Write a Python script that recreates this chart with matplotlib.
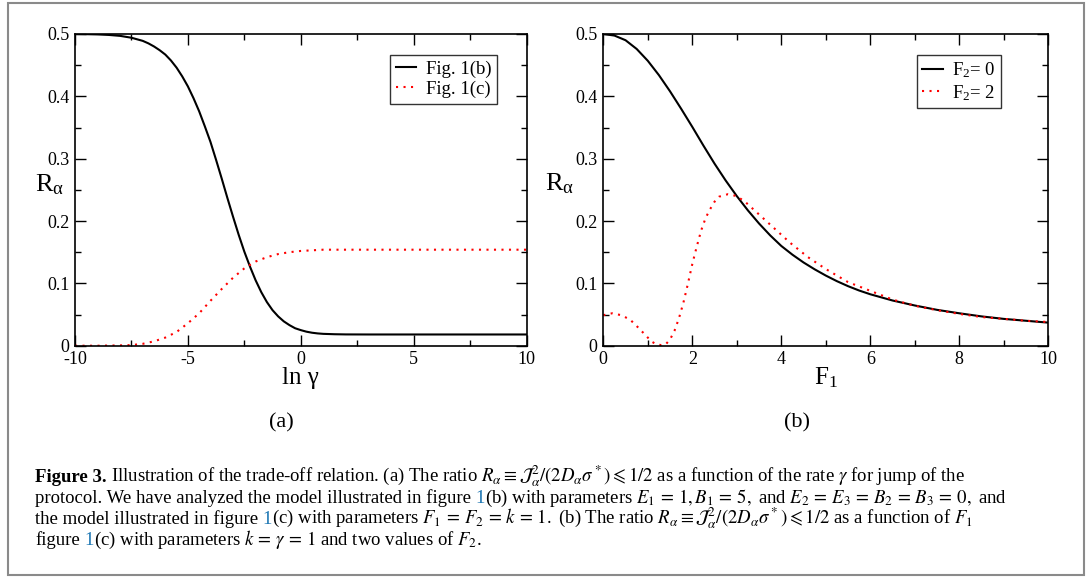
import numpy as np
import matplotlib
matplotlib.use("Agg")
import matplotlib.pyplot as plt
from matplotlib.ticker import MultipleLocator, FuncFormatter
from matplotlib.patches import Rectangle

plt.rcParams['font.family'] = ['Liberation Serif', 'DejaVu Serif']
plt.rcParams['mathtext.fontset'] = 'custom'
plt.rcParams['mathtext.rm'] = 'Liberation Serif'
plt.rcParams['mathtext.it'] = 'Liberation Serif:italic'
plt.rcParams['mathtext.bf'] = 'Liberation Serif:bold'
plt.rcParams['axes.unicode_minus'] = False

# panel (a): R_alpha vs ln gamma
lng_b = [-10, -9.5, -9, -8.5, -8, -7.75, -7.5, -7.25, -7, -6.75, -6.5, -6.25, -6, -5.75, -5.5,
         -5.25, -5, -4.75, -4.5, -4.25, -4, -3.75, -3.5, -3.25, -3, -2.75, -2.5, -2.25, -2,
         -1.75, -1.5, -1.25, -1, -0.75, -0.5, -0.25, 0, 0.25, 0.5, 0.75, 1, 1.5, 2, 3, 4, 6, 8, 10]
R_fig1b = [0.5000, 0.4997, 0.4993, 0.4985, 0.4970, 0.4955, 0.4940, 0.4915, 0.4890, 0.4850,
           0.4800, 0.4740, 0.4670, 0.4575, 0.4460, 0.4320, 0.4160, 0.3970, 0.3760, 0.3520,
           0.3270, 0.2980, 0.2680, 0.2370, 0.2070, 0.1780, 0.1510, 0.1270, 0.1050, 0.0860,
           0.0700, 0.0570, 0.0470, 0.0390, 0.0330, 0.0280, 0.0250, 0.0225, 0.0208, 0.0197,
           0.0190, 0.0184, 0.0181, 0.0180, 0.0180, 0.0180, 0.0180, 0.0180]
lng_c = [-10, -9, -8, -7.5, -7, -6.5, -6, -5.5, -5, -4.5, -4, -3.5, -3, -2.5, -2, -1.5, -1,
         -0.5, 0, 0.5, 1, 2, 4, 6, 8, 10]
R_fig1c = [0.0, 0.0, 0.0005, 0.001, 0.003, 0.007, 0.013, 0.022, 0.036, 0.052, 0.072, 0.091,
           0.109, 0.124, 0.135, 0.142, 0.147, 0.150, 0.152, 0.153, 0.154, 0.154, 0.154, 0.154,
           0.154, 0.154]

# panel (b): R_alpha vs F1
F1_0 = [0, 0.25, 0.5, 0.75, 1, 1.25, 1.5, 1.75, 2, 2.25, 2.5, 2.75, 3, 3.25, 3.5, 3.75, 4,
        4.25, 4.5, 4.75, 5, 5.25, 5.5, 5.75, 6, 6.5, 7, 7.5, 8, 8.5, 9, 9.5, 10]
R_F2_0 = [0.500, 0.4975, 0.490, 0.476, 0.457, 0.434, 0.408, 0.380, 0.351, 0.321, 0.292, 0.265,
          0.240, 0.217, 0.196, 0.177, 0.160, 0.146, 0.1335, 0.1225, 0.1125, 0.1035, 0.0955,
          0.0885, 0.0825, 0.0725, 0.0645, 0.0575, 0.052, 0.047, 0.043, 0.040, 0.037]
F1_2 = [0, 0.2, 0.4, 0.6, 0.8, 1.0, 1.1, 1.2, 1.3, 1.4, 1.5, 1.6, 1.7, 1.8, 1.9, 2.0, 2.1,
        2.2, 2.3, 2.4, 2.5, 2.6, 2.8, 3.0, 3.2, 3.4, 3.6, 3.8, 4.0, 4.2, 4.6, 5.0, 5.5, 6.0,
        6.5, 7.0, 7.5, 8, 8.5, 9, 9.5, 10]
R_F2_2 = [0.049, 0.052, 0.049, 0.042, 0.028, 0.013, 0.006, 0.002, 0.001, 0.002, 0.010, 0.024,
          0.044, 0.069, 0.099, 0.131, 0.159, 0.185, 0.205, 0.219, 0.231, 0.239, 0.243, 0.240,
          0.230, 0.217, 0.204, 0.191, 0.178, 0.165, 0.142, 0.123, 0.102, 0.088, 0.074, 0.064,
          0.057, 0.051, 0.046, 0.043, 0.040, 0.038]

W, H = 1088, 577
fig = plt.figure(figsize=(W / 100, H / 100), dpi=100)
fig.patches.append(Rectangle((8 / W, 2 / H), 1076 / W, 572 / H, transform=fig.transFigure,
                             fill=False, edgecolor='#8a8a8a', lw=1.5))

def px_axes(l, r, t, b):
    return fig.add_axes([l / W, 1 - b / H, (r - l) / W, (b - t) / H])

axa = px_axes(75, 526.5, 34, 345.7)
axb = px_axes(603.3, 1048.3, 34, 345.7)

dots = dict(color='red', lw=1.5, linestyle=(0, (1, 2.6)))
axa.plot(lng_b, R_fig1b, color='black', lw=1.5, label='Fig. 1(b)')
axa.plot(lng_c, R_fig1c, label='Fig. 1(c)', **dots)
axb.plot(F1_0, R_F2_0, color='black', lw=1.5, label='F$_2$= 0')
axb.plot(F1_2, R_F2_2, label='F$_2$= 2', **dots)

yfmt = FuncFormatter(lambda v, p: '0' if abs(v) < 1e-9 else '%.1f' % v)
for ax in (axa, axb):
    ax.set_ylim(0, 0.5)
    ax.yaxis.set_major_locator(MultipleLocator(0.1))
    ax.yaxis.set_minor_locator(MultipleLocator(0.05))
    ax.yaxis.set_major_formatter(yfmt)
    ax.tick_params(which='both', direction='in', top=True, right=True, labelsize=13, width=1)
    ax.tick_params(which='major', length=8, pad=4)
    ax.tick_params(which='minor', length=4.5)
    for s in ax.spines.values():
        s.set_linewidth(1.2)
    ax.set_ylabel(r'R$_\mathrm{\alpha}$', fontsize=19, rotation=0, ha='left', va='center')
    leg = ax.legend(loc='upper left', fontsize=13.5, frameon=True, fancybox=False,
                    edgecolor='black', handlelength=1.1, handletextpad=0.5,
                    labelspacing=0.15, borderpad=0.3, borderaxespad=0)
    leg.get_frame().set_linewidth(1.0)

axa.set_xlim(-10, 10)
axa.xaxis.set_major_locator(MultipleLocator(5))
axa.xaxis.set_minor_locator(MultipleLocator(2.5))
axb.set_xlim(0, 10)
axb.xaxis.set_major_locator(MultipleLocator(2))
axb.xaxis.set_minor_locator(MultipleLocator(1))

axa.legend_.set_bbox_to_anchor((0.698, 0.933))
axb.legend_.set_bbox_to_anchor((0.704, 0.933))

axa.set_xlabel('ln γ', fontsize=18)
axb.set_xlabel(r'F$_1$', fontsize=18)
axa.xaxis.set_label_coords(0.5, -0.104)
axb.xaxis.set_label_coords(0.5, -0.104)
axa.xaxis.label.set_va('center')
axb.xaxis.label.set_va('center')
axa.yaxis.set_label_coords(-0.0886, 0.515)
axb.yaxis.set_label_coords(-0.131, 0.52)

fig.text(281 / W, 1 - 423 / H, '(a)', fontsize=16, ha='center', va='center')
fig.text(797 / W, 1 - 423 / H, '(b)', fontsize=16, ha='center', va='center')

# caption, drawn piece by piece so the figure numbers can be blue
cap_fs = 13.5
blue = '#1f78b4'
rr = fig.canvas.get_renderer()

def width_of(s, weight='normal'):
    t = fig.text(0, 0, s, fontsize=cap_fs, fontweight=weight, math_fontfamily='stix')
    w = t.get_window_extent(rr).width
    t.remove()
    return w

space = width_of('a a') - width_of('aa')

lines = [
    [('Figure 3.', 'black', 'bold', True),
     (r'Illustration of the trade-off relation. (a) The ratio $R_\alpha \equiv \mathcal{J}_\alpha^2/(2D_\alpha\sigma^*) \leqslant 1/2$ as a function of the rate $\gamma$ for jump of the',
      'black', 'normal', False)],
    [('protocol. We have analyzed the model illustrated in figure', 'black', 'normal', True),
     ('1', blue, 'normal', False),
     (r'(b) with parameters $E_1\,=\,1, B_1\,=\,5,$ and $E_2\,=\,E_3\,=\,B_2\,=\,B_3\,=\,0,$ and',
      'black', 'normal', False)],
    [('the model illustrated in figure', 'black', 'normal', True),
     ('1', blue, 'normal', False),
     (r'(c) with parameters $F_1\,=\,F_2\,=\,k\,=\,1.$ (b) The ratio $R_\alpha \equiv \mathcal{J}_\alpha^2/(2D_\alpha\sigma^*) \leqslant 1/2$ as a function of $F_1$',
      'black', 'normal', False)],
    [('figure', 'black', 'normal', True),
     ('1', blue, 'normal', False),
     (r'(c) with parameters $k\,=\,\gamma\,=\,1$ and two values of $F_2$.', 'black', 'normal', False)],
]
baselines = [482, 503, 524, 545]
for yb, parts in zip(baselines, lines):
    x = 35.0
    for s, col, wt, gap in parts:
        t = fig.text(x / W, 1 - yb / H, s, fontsize=cap_fs, fontweight=wt, color=col,
                     va='baseline', ha='left', math_fontfamily='stix')
        x += t.get_window_extent(rr).width + (space if gap else 0)

fig.savefig('out.png', dpi=100)
